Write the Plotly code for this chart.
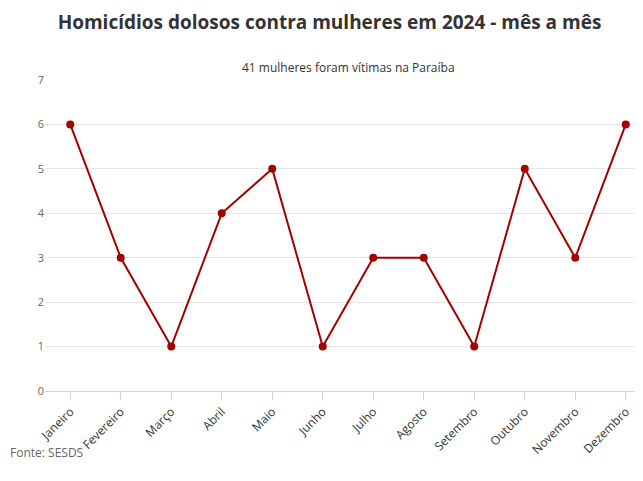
import plotly.graph_objects as go

# Data
meses = ["Janeiro", "Fevereiro", "Março", "Abril", "Maio", "Junho",
         "Julho", "Agosto", "Setembro", "Outubro", "Novembro", "Dezembro"]
homicidios = [6, 3, 1, 4, 5, 1, 3, 3, 1, 5, 3, 6]

fig = go.Figure()
fig.add_trace(go.Scatter(
    x=meses, y=homicidios, mode="lines+markers",
    line=dict(color="#a30000", width=2),
    marker=dict(color="#a30000", size=8),
    hovertemplate="%{x}: %{y}<extra></extra>"
))

fig.update_layout(
    width=643, height=481,
    font=dict(family="Open Sans", color="#666"),
    margin=dict(l=37, r=0, t=72, b=98),
    plot_bgcolor="white", paper_bgcolor="white",
    showlegend=False,
    title=dict(text="<b>Homicídios dolosos contra mulheres em 2024 - mês a mês</b>",
               x=0.5, xanchor="center", y=0.985, yanchor="top",
               font=dict(size=19, color="#333", family="Open Sans")),
    annotations=[
        dict(text="41 mulheres foram vítimas na Paraíba", x=0.5, y=1.075,
             xref="paper", yref="paper", showarrow=False,
             font=dict(size=12, color="#333")),
        dict(text="Fonte: SESDS", x=-37/606, y=-0.23, xref="paper", yref="paper",
             xanchor="left", showarrow=False, font=dict(size=12, color="#666")),
    ],
    xaxis=dict(range=[-0.5, 11.5], tickangle=-45, showgrid=False,
               showline=True, linecolor="#ccd6eb", ticks="outside",
               tickcolor="#ccd6eb", ticklen=8,
               tickfont=dict(size=12, color="#333", family="Open Sans")),
    yaxis=dict(range=[0, 7], dtick=1, gridcolor="#e6e6e6", zeroline=False,
               tickfont=dict(size=11, color="#666")),
)

fig.write_html("out.html")
